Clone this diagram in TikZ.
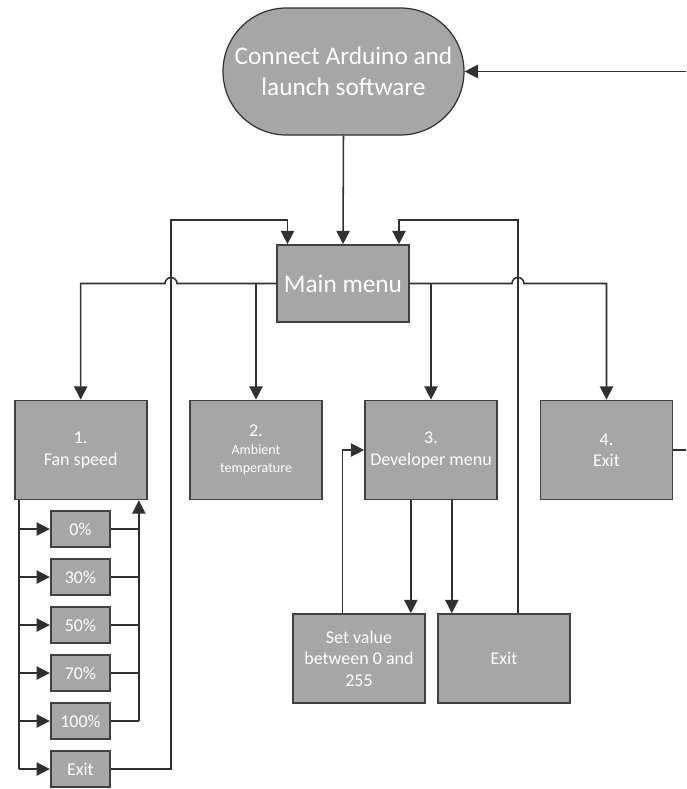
\documentclass[tikz,border=0pt]{standalone}
\usepackage{fontspec}
\setmainfont{Carlito}
\usetikzlibrary{arrows.meta,calc}

\definecolor{boxfill}{HTML}{A6A6A6}
\definecolor{boxline}{HTML}{404040}
\definecolor{wire}{HTML}{303030}

\tikzset{every picture/.style={line width=1.15pt},
  menubox/.style={draw=boxline,fill=boxfill,text=white,inner sep=0pt,align=center,line width=1.3pt,
    minimum width=99pt,minimum height=74.25pt,font=\fontsize{13.5}{16}\selectfont},
  pctbox/.style={menubox,minimum width=44.5pt,minimum height=27.2pt},
  subbox/.style={menubox,minimum height=66.75pt},
  termbox/.style={menubox,draw=wire,line width=0.9pt,minimum width=180.75pt,minimum height=95.25pt,
    rounded corners=47.6pt,font=\fontsize{19}{23}\selectfont},
  link/.style={draw=wire,-{Triangle[width=10pt,length=10pt]}},
  wireline/.style={draw=wire}}

\begin{document}
\begin{tikzpicture}[x=0.75pt,y=0.75pt,yscale=-1,xscale=1]
\useasboundingbox (0,0) rectangle (686,789);

%Start terminal
\node [termbox] (start) at (343.5,71.5) {Connect Arduino and\\launch software};
%Main menu
\node [menubox,minimum height=57.75pt,font=\fontsize{19}{23}\selectfont] (main) at (343,283.5) {Main menu};

%Menu entries
\node [menubox] (fan) at (80.7,450) {1.\\Fan speed};
\node [menubox] (amb) at (256,450) {2.\\[-2.25pt]{\fontsize{10.5}{13.5}\selectfont Ambient}\\[-2.5pt]{\fontsize{10.5}{13.5}\selectfont temperature}};
\node [menubox] (dev) at (431,450) {3.\\Developer menu};
\node [menubox] (quit) at (606.5,450) {4.\\Exit};

%Fan speed choices
\node [pctbox] (p0) at (80.4,529) {0\%};
\node [pctbox] (p30) at (80.4,577) {30\%};
\node [pctbox] (p50) at (80.4,625) {50\%};
\node [pctbox] (p70) at (80.4,673) {70\%};
\node [pctbox] (p100) at (80.4,721) {100\%};
\node [pctbox] (fexit) at (80.4,769) {Exit};

%Developer menu choices
\node [subbox] (setval) at (359,658.5) {Set value\\between 0 and\\255};
\node [subbox] (dexit) at (504,658.5) {Exit};

%Helper points
\coordinate (entry) at (686,71.5);
\coordinate (loopL) at (171,220);
\coordinate (loopR) at (518,220);
\coordinate (busL) at ($(fan.south west)+(5.3,0)$);
\coordinate (busR) at ($(fan.south east)+(-8.7,0)$);
\coordinate (dl) at ($(dev.south west)+(46.7,0)$);
\coordinate (dr) at ($(dev.south west)+(87.7,0)$);

%Start to main menu
\draw [link] (entry) -- (start.east);
\draw [link] (start.south) -- (main.north);

%Main menu to entries, with hops
\draw [link] (main.west) -- ($(loopL |- main.west)+(6,0)$) arc [start angle=0,end angle=-180,radius=6] -- (fan.north |- main.west) -- (fan.north);
\draw [link] (amb.north |- main.west) -- (amb.north);
\draw [link] (main.east) -- ($(loopR |- main.east)+(-6,0)$) arc [start angle=180,end angle=360,radius=6] -- (quit.north |- main.east) -- (quit.north);
\draw [link] (dev.north |- main.east) -- (dev.north);
\draw [wireline] (quit.east) -- (quit.east -| entry);

%Fan speed buses
\draw [wireline] (busL) -- (busL |- fexit);
\draw [link] (busL |- p0) -- (p0.west);
\draw [link] (busL |- p30) -- (p30.west);
\draw [link] (busL |- p50) -- (p50.west);
\draw [link] (busL |- p70) -- (p70.west);
\draw [link] (busL |- p100) -- (p100.west);
\draw [link] (busL |- fexit) -- (fexit.west);
\draw [wireline] (p0.east) -- (busR |- p0);
\draw [wireline] (p30.east) -- (busR |- p30);
\draw [wireline] (p50.east) -- (busR |- p50);
\draw [wireline] (p70.east) -- (busR |- p70);
\draw [wireline] (p100.east) -- (busR |- p100);
\draw [link] (busR |- p100) -- (busR);

%Back to main menu
\draw [link] (fexit.east) -| (loopL) -| ($(main.north)+(-55.5,0)$);
\draw [link] (dexit.north -| loopR) -- (loopR) -| ($(main.north)+(56,0)$);

%Developer menu
\draw [link] (dl) -- (dl |- setval.north);
\draw [link] (dr) -- (dr |- dexit.north);
\draw [link] ($(setval.north west)+(50.3,0)$) |- (dev.west);

\end{tikzpicture}
\end{document}
